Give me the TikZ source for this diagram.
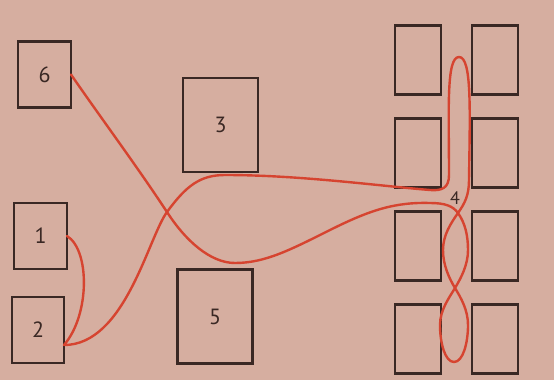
\documentclass[tikz,border=0pt]{standalone}
\usepackage{fontspec}
\setmainfont{PT Sans}
\usetikzlibrary{positioning}
\definecolor{paper}{RGB}{214, 174, 160}
\definecolor{ink}{RGB}{58, 40, 36}
\definecolor{routered}{RGB}{214, 68, 48}
\tikzset{
  station/.style = {shape=rectangle, draw=ink, line width=2.4pt,
                    inner sep=0pt, outer sep=0pt, text=ink,
                    font=\fontsize{22}{26}\selectfont},
  smallbox/.style = {station, minimum width=53pt, minimum height=66pt},
  bigbox/.style   = {station, minimum width=75pt, minimum height=94pt},
  shelf/.style    = {station, minimum width=46pt, minimum height=69pt},
  walk/.style     = {draw=routered, line width=2.4pt, line cap=round}
}

\begin{document}
\begin{tikzpicture}[x=1pt, y=-1pt]
  \fill[paper] (0,0) rectangle (554,380);
  \useasboundingbox (0,0) rectangle (554,380);
  \node [smallbox] (s6) at (44.5,74.5) {6};
  \node [bigbox] (s3) at (220.5,125) {3};
  \node [smallbox] (s1) at (40.5,236) {1};
  \node [smallbox, minimum width=52pt] (s2) at (38,330) {2};
  \node [bigbox] (s5) at (215,316.5) {5};
  \node [shelf] (l1) at (418,60) {};
  \node [shelf] (r1) [right=31pt of l1] {};
  \node [shelf] (l2) [below=24pt of l1] {};
  \node [shelf] (r2) [right=31pt of l2] {};
  \node [shelf] (l3) [below=24pt of l2] {};
  \node [shelf] (r3) [right=31pt of l3] {};
  \node [shelf] (l4) [below=24pt of l3] {};
  \node [shelf] (r4) [right=31pt of l4] {};
  \node [text=ink, font=\fontsize{18}{21}\selectfont] (s4) at (455,198) {4};
  \draw[walk] (s1.east) .. controls (90,250) and (90,315) .. (s2.-30);
  \draw[walk] (s2.-30) .. controls (125,345) and (148,238) .. (167,212)
    .. controls (186,186) and (200,175) .. (225,175)
    .. controls (300,175) and (380,186) .. (430,190)
    .. controls (442,191) and (449,188) .. (449,175)
    .. controls (449,110) and (446,57) .. (459,57)
    .. controls (472,57) and (470,110) .. (469,180)
    .. controls (469,195) and (465,203) .. (458,213)
    .. controls (451,223) and (443,235) .. (443,250)
    .. controls (443,265) and (449,278) .. (455,288)
    .. controls (461,298) and (468,310) .. (468,325)
    .. controls (468,343) and (463,362) .. (454,362)
    .. controls (445,362) and (440,343) .. (440,325)
    .. controls (440,310) and (449,298) .. (455,288)
    .. controls (461,278) and (468,265) .. (468,250)
    .. controls (468,235) and (465,223) .. (458,213)
    .. controls (453,206) and (445,203) .. (430,203)
    .. controls (395,202) and (370,210) .. (330,230)
    .. controls (290,250) and (265,263) .. (235,263)
    .. controls (210,263) and (185,240) .. (167,212)
    .. controls (136,165) and (101,118) .. (s6.east);
\end{tikzpicture}
\end{document}
